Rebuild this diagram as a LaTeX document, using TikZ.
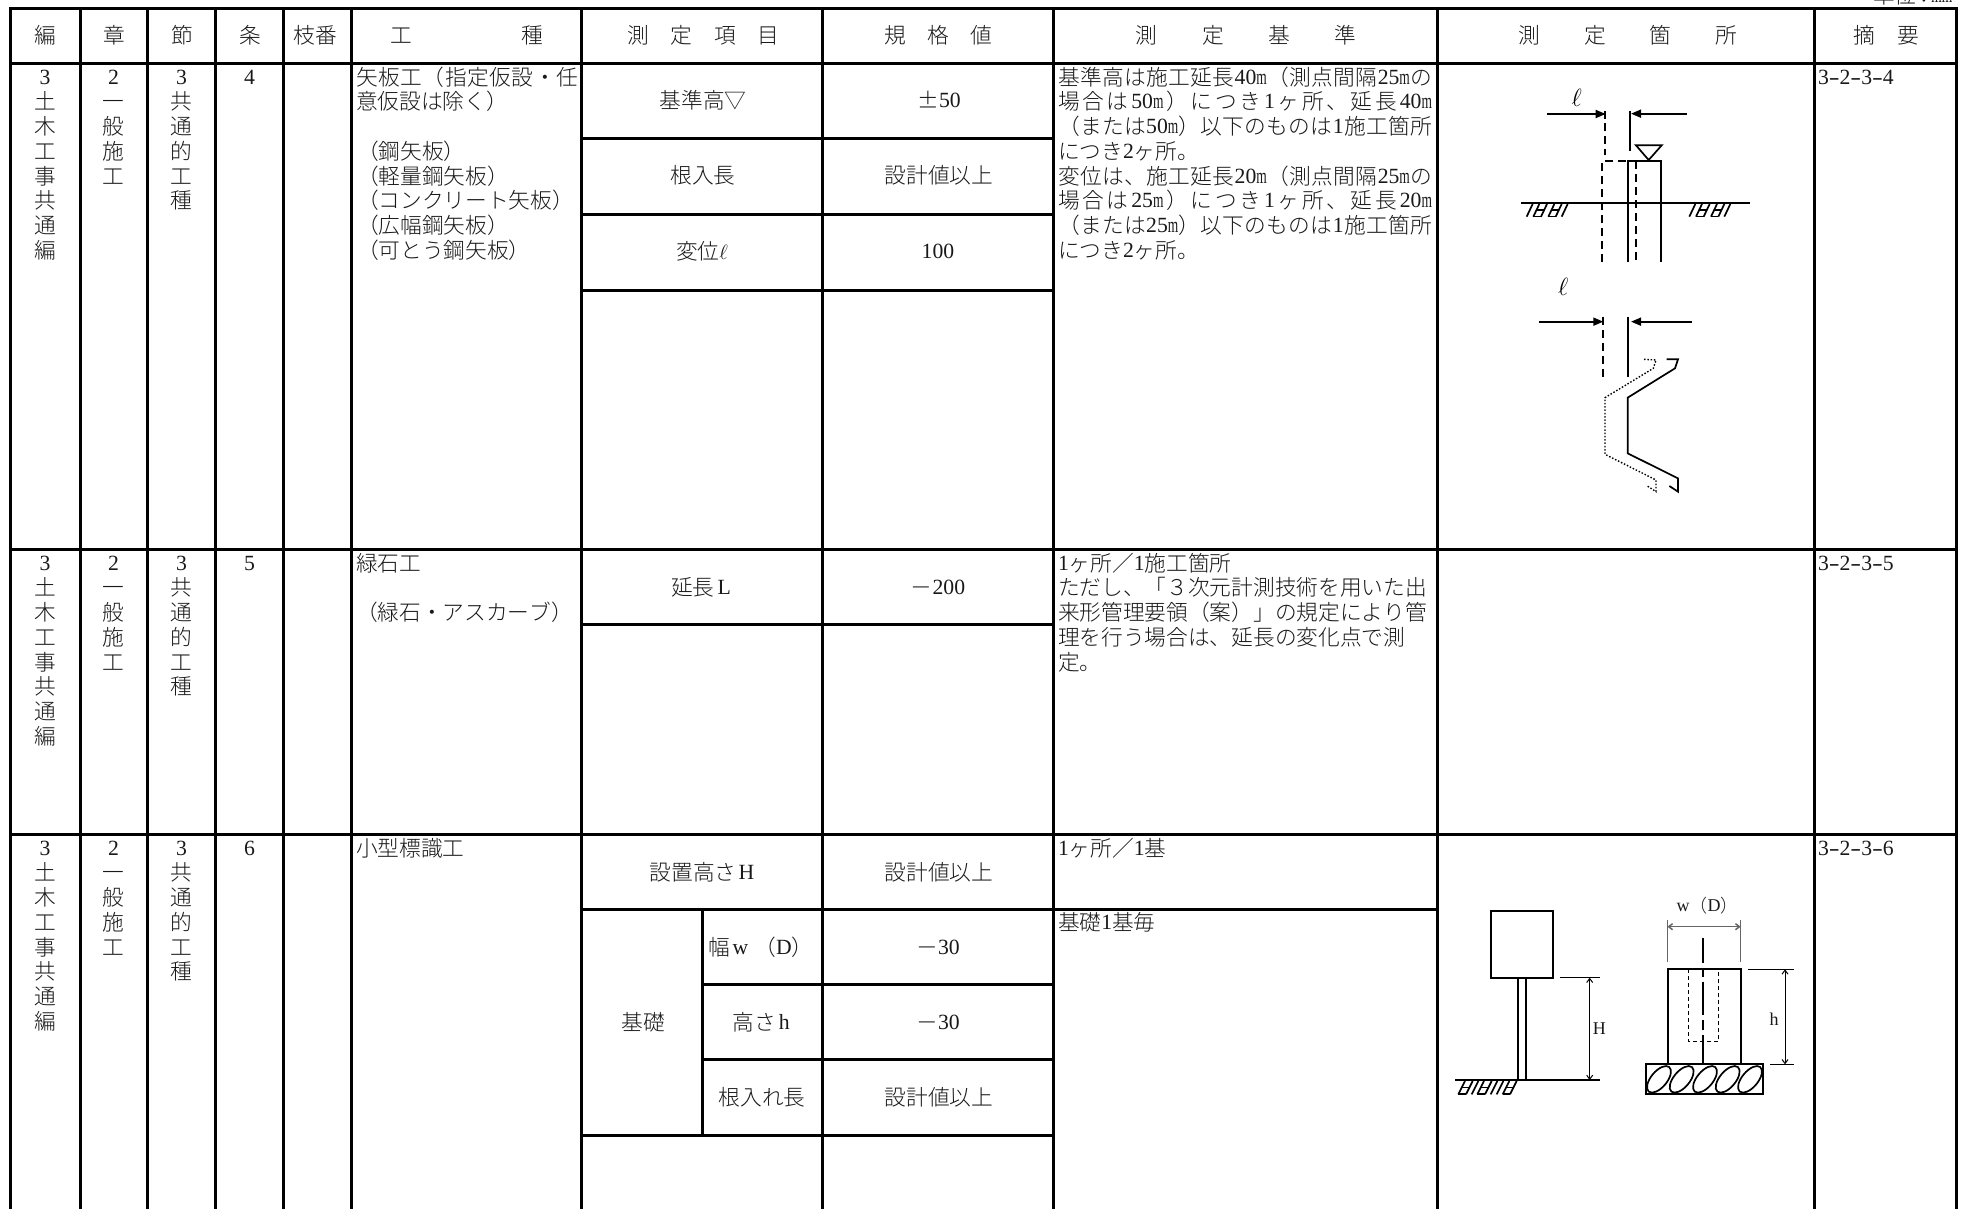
\documentclass[tikz,border=0pt]{standalone}
\usepackage{fontspec}
\usetikzlibrary{arrows.meta}
\setmainfont{Liberation Serif}
\newfontfamily\jpf{Noto Sans CJK JP Light}
\newfontfamily\serf{Liberation Serif}
\makeatletter
\XeTeXinterchartokenstate=1
\newcommand\setcls[2]{\count@=#1 \loop\ifnum\count@<#2 \XeTeXcharclass\count@=1 \advance\count@ by 1 \repeat}
\setcls{"3000}{"3100}
\setcls{"4E00}{"A000}
\setcls{"FF00}{"FFF0}
\XeTeXinterchartoks 1 1 = {\hskip 0pt plus 1fil\relax}
\makeatother
\newcommand\jp{\fontsize{21.7}{24.75}\jpf\selectfont}
\newcommand\Lt[1]{\hskip 0pt plus 1fil\raisebox{.8pt}{\serf #1}\hskip 0pt plus 1fil\relax}
\newcommand\Lz[1]{\hskip 0pt plus 1fil\raisebox{.8pt}{\serf #1}}
\newcommand\D[1]{\raisebox{.8pt}{\serf #1}}
\newcommand\mm{\scalebox{.62}[1]{m}}
\newcommand\hy{\makebox[10.8pt]{\scalebox{1.5}[1]{-}}}
\newcommand\jl[1]{\makebox[374pt][s]{#1}}
\tikzset{
  x=1pt,y=-1pt,
  grid/.style={line width=3pt,line cap=rect},
  cell/.style={anchor=base,inner sep=0pt,outer sep=0pt,font=\jp,text=black!90},
  lft/.style={anchor=base west,inner sep=0pt,outer sep=0pt,font=\jp,text=black!90},
  fig/.style={line width=1.7pt},
  thinfig/.style={line width=1.1pt},
  dsh/.style={line width=1.7pt,dash pattern=on 8pt off 5pt},
  dott/.style={line width=1.4pt,dash pattern=on 1.5pt off 1.8pt},
  fill arrow/.style={-{Triangle[length=10pt,width=8pt]},line width=1.7pt},
  dim/.style={{Straight Barb[length=4pt,width=6pt]}-{Straight Barb[length=4pt,width=6pt]},line width=1pt},
  small/.style={anchor=base,inner sep=0pt,outer sep=0pt,font=\fontsize{18}{18}\selectfont,text=black!90},
  ellsym/.style={anchor=center,inner sep=0pt,outer sep=0pt,font=\fontsize{27}{27}\selectfont},
}
\newcommand\vcol[4]{\foreach \t [count=\i from 0] in {#4}{\node[cell] (#1\i) at (#2,{#3+24.75*\i}) {\t};}}
\begin{document}
\begin{tikzpicture}
\clip (0,0) rectangle (1966,1208);
\fill[white] (0,0) rectangle (1966,1208);
% grid
\foreach \x in {10,80,147,215.5,283.5,351,581,822,1053,1437.5,1814.5,1956}
  \draw[grid] (\x,8) -- (\x,1210);
\foreach \y in {8,63,549,834}
  \draw[grid] (10,\y) -- (1956,\y);
\foreach \y in {138,214,290,624,1135}
  \draw[grid] (581,\y) -- (1053,\y);
\draw[grid] (581,909) -- (1437.5,909);
\draw[grid] (702.5,984) -- (1053,984);
\draw[grid] (702.5,1059) -- (1053,1059);
\draw[grid] (702.5,909) -- (702.5,1135);
% unit
\node[lft] (unit) at (1873,3) {単位\makebox[15pt][c]{：}\D{\mm\mm}};
% header
\node[cell] (h1) at (45,43) {編};
\node[cell] (h2) at (114,43) {章};
\node[cell] (h3) at (182,43) {節};
\node[cell] (h4) at (250,43) {条};
\node[cell] (h5) at (315,43) {枝番};
\node[cell] (h6a) at (401,43) {工};
\node[cell] (h6b) at (532,43) {種};
\node[cell] (h7a) at (638,43) {測};
\node[cell] (h7b) at (681,43) {定};
\node[cell] (h7c) at (725,43) {項};
\node[cell] (h7d) at (768,43) {目};
\node[cell] (h8a) at (895,43) {規};
\node[cell] (h8b) at (938,43) {格};
\node[cell] (h8c) at (981,43) {値};
\node[cell] (h9a) at (1146,43) {測};
\node[cell] (h9b) at (1213,43) {定};
\node[cell] (h9c) at (1279,43) {基};
\node[cell] (h9d) at (1345,43) {準};
\node[cell] (h10a) at (1529,43) {測};
\node[cell] (h10b) at (1595,43) {定};
\node[cell] (h10c) at (1660,43) {箇};
\node[cell] (h10d) at (1726,43) {所};
\node[cell] (h11a) at (1864,43) {摘};
\node[cell] (h11b) at (1908,43) {要};
% vertical columns
\foreach \r/\b in {a/85,b/571,c/856}{
  \vcol{e\r}{45}{\b}{\D{3},土,木,工,事,共,通,編}
  \vcol{s\r}{113.5}{\b}{\D{2},一,般,施,工}
  \vcol{f\r}{181.5}{\b}{\D{3},共,通,的,工,種}
}
\node[cell] (ja) at (249.5,85) {\D{4}};
\node[cell] (jb) at (249.5,571) {\D{5}};
\node[cell] (jc) at (249.5,856) {\D{6}};
% row 1
\node[lft] (k1) at (356,85) {\makebox[222pt][s]{矢板工（指定仮設・任}};
\node[lft] (k2) at (356,109.75) {意仮設は除く）};
\node[lft] (k3) at (357,159.25) {（鋼矢板）};
\node[lft] (k4) at (357,184) {（軽量鋼矢板）};
\node[lft] (k5) at (357,208.75) {（コンクリート矢板）};
\node[lft] (k6) at (357,233.5) {（広幅鋼矢板）};
\node[lft] (k7) at (357,258.25) {（可とう鋼矢板）};
\node[cell] (m1) at (703,108) {基準高▽};
\node[cell] (m2) at (703,183.5) {根入長};
\node[cell] (m3) at (702,259) {変位$\ell$};
\node[cell] (v1) at (939,108) {±\D{50}};
\node[cell] (v2) at (939,183.5) {設計値以上};
\node[cell] (v3) at (938,259) {\D{100}};
\node[lft] (b1) at (1058,85) {\jl{基準高は施工延長\Lt{40\mm}（測点間隔\Lt{25\mm}の}};
\node[lft] (b2) at (1058,109.75) {\jl{場合は\Lt{50\mm}）につき\Lt{1}ヶ所、延長\Lz{40\mm}}};
\node[lft] (b3) at (1058,134.5) {\jl{（または\Lt{50\mm}）以下のものは\Lt{1}施工箇所}};
\node[lft] (b4) at (1058,159.25) {につき\D{2}ヶ所。};
\node[lft] (b5) at (1058,184) {\jl{変位は、施工延長\Lt{20\mm}（測点間隔\Lt{25\mm}の}};
\node[lft] (b6) at (1058,208.75) {\jl{場合は\Lt{25\mm}）につき\Lt{1}ヶ所、延長\Lz{20\mm}}};
\node[lft] (b7) at (1058,233.5) {\jl{（または\Lt{25\mm}）以下のものは\Lt{1}施工箇所}};
\node[lft] (b8) at (1058,258.25) {につき\D{2}ヶ所。};
\node[lft] (t1) at (1818,85) {\D{3\hy 2\hy 3\hy 4}};
% row 2
\node[lft] (k8) at (356,571) {緑石工};
\node[lft] (k9) at (356,620.5) {（緑石・アスカーブ）};
\node[cell] (m4) at (701,595) {延長\hskip 3pt\D{L}};
\node[cell] (v4) at (938,595) {－\D{200}};
\node[lft] (b9) at (1058,571) {\D{1}ヶ所／\D{1}施工箇所};
\node[lft] (b10) at (1058,595.75) {ただし、「３次元計測技術を用いた出};
\node[lft] (b11) at (1058,620.5) {来形管理要領（案）」の規定により管};
\node[lft] (b12) at (1058,645.25) {理を行う場合は、延長の変化点で測};
\node[lft] (b13) at (1058,670) {定。};
\node[lft] (t2) at (1818,571) {\D{3\hy 2\hy 3\hy 5}};
% row 3
\node[lft] (k10) at (356,856) {小型標識工};
\node[cell] (m5) at (702,880) {設置高さ\hskip 2pt\D{H}};
\node[cell] (m6) at (643,1030) {基礎};
\node[lft] (m7) at (708,955) {幅\hskip 3pt\D{w}\hskip 6pt（\D{D}）};
\node[cell] (m8) at (761,1030) {高さ\hskip 3pt\D{h}};
\node[cell] (m9) at (762,1105) {根入れ長};
\node[cell] (v5) at (939,880) {設計値以上};
\node[cell] (v6) at (938,955) {－\D{30}};
\node[cell] (v7) at (938,1030) {－\D{30}};
\node[cell] (v8) at (939,1105) {設計値以上};
\node[lft] (b14) at (1058,856) {\D{1}ヶ所／\D{1}基};
\node[lft] (b15) at (1058,930.5) {基礎\D{1}基毎};
\node[lft] (t3) at (1818,856) {\D{3\hy 2\hy 3\hy 6}};
% figure 1 (zoom coordinates)
\begin{scope}[shift={(1440,60)},scale=0.33333]
  \node[ellsym] (l1) at (410,115) {$\ell$};
  \draw[fill arrow] (320,162) -- (497,162);
  \draw[fill arrow] (740,161) -- (573,161);
  \draw[fig] (496,152) -- (496,178);
  \draw[dsh] (496,190) -- (496,285);
  \draw[fig] (570,152) -- (570,272);
  \draw[fig] (588,256) -- (665,256) -- (626,300) -- cycle;
  \draw[fig] (563,607) -- (563,303) -- (663,303) -- (663,607);
  \draw[fig] (243,430) -- (930,430);
  \draw[dsh] (487,607) -- (487,303) -- (563,303);
  \draw[dsh] (587,303) -- (587,600);
  \foreach \o in {0,488}{
    \foreach \x in {260,280,303,325,347,365}
      \draw[fig] (\x+\o,470) -- (\x+18+\o,432);
    \draw[thinfig] (\o+289,450) -- (\o+312,450);
    \draw[thinfig] (\o+334,450) -- (\o+356,450);
    \draw[thinfig] (\o+280,469) -- (\o+303,469);
    \draw[thinfig] (\o+325,469) -- (\o+347,469);
  }
  \node[ellsym] (l2) at (370,680) {$\ell$};
  \draw[fill arrow] (297,785) -- (490,785);
  \draw[fill arrow] (755,785) -- (573,785);
  \draw[fig] (488,770) -- (488,795);
  \draw[dsh] (488,810) -- (488,965);
  \draw[fig] (563,770) -- (563,950);
  \draw[fig] (680,898) -- (714,898) -- (705,925) -- (563,1013) -- (563,1180) -- (714,1255) -- (714,1295) -- (688,1278);
  \draw[dott] (612,898) -- (648,900) -- (640,925) -- (495,1013) -- (495,1183) -- (648,1260) -- (648,1295) -- (622,1278);
\end{scope}
% figure 2
\begin{scope}[shift={(1440,880)},scale=0.33333]
  \draw[fig] (152,94) rectangle (338,293);
  \draw[fig] (235,293) -- (235,600);
  \draw[fig] (259,293) -- (259,600);
  \draw[fig] (45,600) -- (480,600);
  \draw[thinfig] (360,293) -- (480,293);
  \draw[dim] (449,293) -- (449,600);
  \foreach \x in {55,78,95,112,135,152,170,188,210}
    \draw[fig] (\x,643) -- (\x+20,603);
  \foreach \a/\b in {55/78,112/135,188/210}{
    \draw[thinfig] (\a,642) -- (\b,642);
    \draw[thinfig] (\a+10,622) -- (\b+10,622);
  }
  \node[small] (H) at (478,462) {H};
  \node[small] (w) at (803,97) {\D{w}{\fontsize{18}{18}\jpf\selectfont（}\D{D}{\fontsize{18}{18}\jpf\selectfont）}};
  \draw[thinfig,draw=black!60] (682,120) -- (682,247);
  \draw[thinfig,draw=black!60] (902,120) -- (902,247);
  \draw[dim,draw=black!60,line width=1.5pt] (682,140) -- (902,140);
  \draw[fig] (683,553) -- (683,268) -- (902,268) -- (902,553);
  \draw[fig] (790,175) -- (790,250);
  \draw[fig] (790,265) -- (790,290);
  \draw[fig] (790,305) -- (790,405);
  \draw[fig] (790,420) -- (790,450);
  \draw[fig] (790,465) -- (790,553);
  \draw[line width=1.5pt,dash pattern=on 4pt off 3pt] (745,268) -- (745,485) -- (836,485) -- (836,268);
  \draw[fig] (617,553) rectangle (968,643);
  \foreach \x in {657,725,795,863,930}
    \draw[fig] (\x,598) ellipse[x radius=48pt,y radius=24pt,rotate=50];
  \draw[thinfig] (925,268) -- (1062,268);
  \draw[thinfig] (990,553) -- (1062,553);
  \draw[dim] (1035,268) -- (1035,553);
  \node[small] (h) at (1002,437) {h};
\end{scope}
\end{tikzpicture}
\end{document}
